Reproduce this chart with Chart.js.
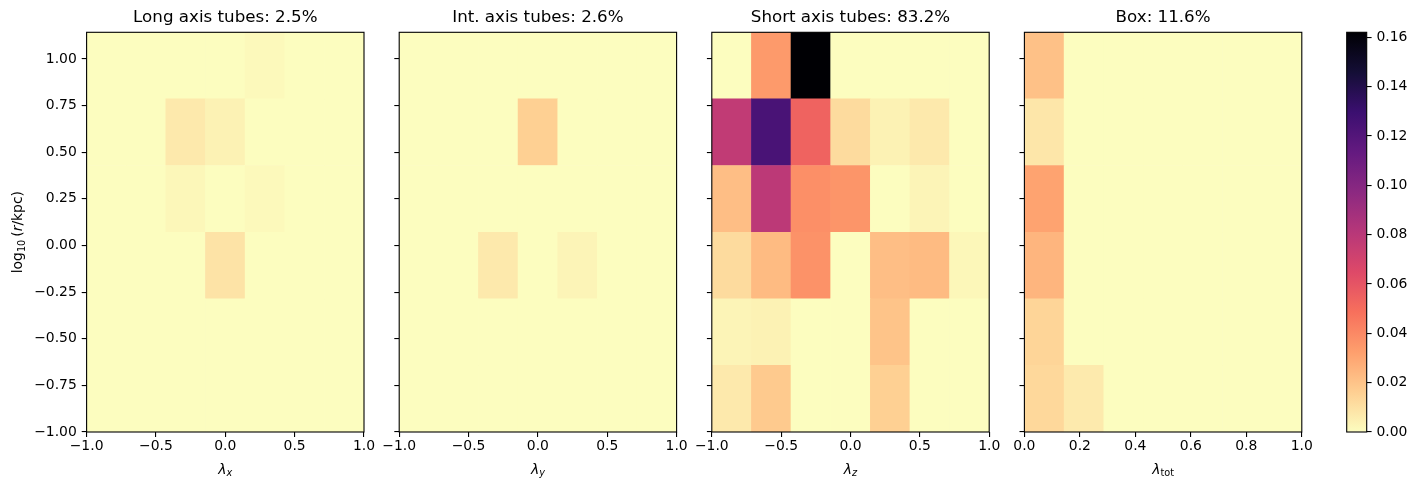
<!DOCTYPE html>
<html><head><meta charset="utf-8">
<script src="https://cdn.jsdelivr.net/npm/chart.js@4.4.1/dist/chart.umd.min.js"></script>
<style>
html,body{margin:0;padding:0;background:#fff;}
#wrap{position:relative;width:1417px;height:490px;overflow:hidden;}
#wrap canvas{position:absolute;left:0;top:0;}
</style></head><body>
<div id="wrap">
<canvas id="p0" width="1417" height="490"></canvas>
<canvas id="p1" width="1417" height="490"></canvas>
<canvas id="p2" width="1417" height="490"></canvas>
<canvas id="p3" width="1417" height="490"></canvas>
<canvas id="cb" width="1417" height="490"></canvas>
</div>
<script>
// ---------------- data ----------------
const yEdges = [-1, -0.643, -0.286, 0.071, 0.429, 0.786, 1.143];          // log10(r/kpc) bin edges
const lambdaEdges = [-1, -0.714, -0.429, -0.143, 0.143, 0.429, 0.714, 1]; // λx, λy, λz bin edges
const totEdges = [0, 0.143, 0.286, 0.429, 0.571, 0.714, 0.857, 1];        // λtot bin edges
const panelTitles = ['Long axis tubes: 2.5%', 'Int. axis tubes: 2.6%', 'Short axis tubes: 83.2%', 'Box: 11.6%'];
const yTicks = [-1, -0.75, -0.5, -0.25, 0, 0.25, 0.5, 0.75, 1];
const lambdaTicks = [-1, -0.5, 0, 0.5, 1];
const totTicks = [0, 0.2, 0.4, 0.6, 0.8, 1];
const cbarTicks = [0, 0.02, 0.04, 0.06, 0.08, 0.10, 0.12, 0.14, 0.16];
const vmax = 0.162;
// rows listed from the bottom bin (-1.000 … -0.643) to the top bin (0.786 … 1.143)
const longAxis = [
  [0, 0, 0, 0, 0, 0, 0],
  [0, 0, 0, 0, 0, 0, 0],
  [0, 0, 0, 0.009, 0, 0, 0],
  [0, 0, 0.002, 0, 0.0015, 0, 0],
  [0, 0, 0.007, 0.004, 0, 0, 0],
  [0, 0, 0, 0, 0.0015, 0, 0]
];
const intAxis = [
  [0, 0, 0, 0, 0, 0, 0],
  [0, 0, 0, 0, 0, 0, 0],
  [0, 0, 0.007, 0, 0.003, 0, 0],
  [0, 0, 0, 0, 0, 0, 0],
  [0, 0, 0, 0.016, 0, 0, 0],
  [0, 0, 0, 0, 0, 0, 0]
];
const shortAxis = [
  [0.007, 0.018, 0, 0, 0.016, 0, 0],
  [0.003, 0.004, 0, 0, 0.020, 0, 0],
  [0.012, 0.023, 0.037, 0, 0.022, 0.023, 0.002],
  [0.022, 0.079, 0.038, 0.036, 0, 0.003, 0],
  [0.077, 0.124, 0.054, 0.012, 0.004, 0.007, 0],
  [0, 0.034, 0.162, 0, 0, 0, 0]
];
const boxOrbits = [
  [0.013, 0.0066, 0, 0, 0, 0, 0],
  [0.014, 0, 0, 0, 0, 0, 0],
  [0.025, 0, 0, 0, 0, 0, 0],
  [0.031, 0, 0, 0, 0, 0, 0],
  [0.008, 0, 0, 0, 0, 0, 0],
  [0.021, 0, 0, 0, 0, 0, 0]
];

// ---------------- style ----------------
const FONT = "'DejaVu Sans', 'Liberation Sans', sans-serif";
const magma = [[0,0,4],[20,14,54],[59,15,112],[100,26,128],[140,41,129],[183,55,121],
               [222,73,104],[247,112,92],[254,159,109],[254,207,146],[252,253,191]];
function rgb(c){return 'rgb(' + c.map(Math.round).join(',') + ')';}
function cmapR(v){ // magma_r
  const t = 1 - Math.min(Math.max(v / vmax, 0), 1);
  const p = t * 10; const i = Math.min(Math.floor(p), 9); const f = p - i;
  const a = magma[i], b = magma[i + 1];
  return rgb([0,1,2].map(k => a[k] + (b[k] - a[k]) * f));
}
function fmt(v, d){ return Number(v).toFixed(d).replace('-', '\u2212'); }

Chart.defaults.font.family = FONT;
Chart.defaults.color = '#000';

const TICK = 4.9, FS = 13.9;
const plotLefts = [86.6, 399.2, 711.8, 1024.4];
const plotW = 277.4, plotTop = 32.3, plotBottom = 432;
const YW = 60, XH = 30;

function drawRich(ctx, pieces, cx, baseY, rotate) {
  const sub = FS * 0.7, shift = 2.9;
  const fontOf = p => (p[1].includes('it') ? 'italic ' : '') + (p[1].startsWith('sub') ? sub : FS) + 'px ' + FONT;
  let total = 0; const widths = [];
  pieces.forEach(p => {
    if (p[1] === 'gap') { widths.push(p[0]); total += p[0]; return; }
    ctx.font = fontOf(p); const w = ctx.measureText(p[0]).width; widths.push(w); total += w;
  });
  ctx.save();
  ctx.fillStyle = '#000'; ctx.textBaseline = 'alphabetic'; ctx.textAlign = 'left';
  if (rotate) { ctx.translate(baseY, cx); ctx.rotate(-Math.PI / 2); }
  else { ctx.translate(cx, baseY); }
  let x = -total / 2;
  pieces.forEach((p, i) => {
    if (p[1] !== 'gap') {
      ctx.font = fontOf(p);
      ctx.fillText(p[0], x, p[1].startsWith('sub') ? shift : 0);
    }
    x += widths[i];
  });
  ctx.restore();
}

const framePlugin = {
  id: 'frame',
  afterDraw(chart) {
    const {ctx, chartArea: a} = chart;
    ctx.save(); ctx.strokeStyle = '#000'; ctx.lineWidth = 1.1;
    ctx.strokeRect(a.left, a.top, a.right - a.left, a.bottom - a.top);
    ctx.restore();
    const lab = chart.options.plugins.axisLabels;
    if (lab) {
      if (lab.x) drawRich(ctx, lab.x, (a.left + a.right) / 2, 473.5, false);
      if (lab.y) drawRich(ctx, lab.y, (a.top + a.bottom) / 2, 21.8, true);
    }
  }
};

const panels = [
  {grid: longAxis, edges: lambdaEdges, ticks: lambdaTicks, xl: [['λ','it'],['x','subit']]},
  {grid: intAxis, edges: lambdaEdges, ticks: lambdaTicks, xl: [['λ','it'],['y','subit']]},
  {grid: shortAxis, edges: lambdaEdges, ticks: lambdaTicks, xl: [['λ','it'],['z','subit']]},
  {grid: boxOrbits, edges: totEdges, ticks: totTicks, xl: [['λ','it'],['tot','subrm']]}
];
const yLabel = [['log','rm'],['10','subrm'],[3,'gap'],['(','rm'],['r','it'],['/kpc)','rm']];

panels.forEach((P, k) => {
  const datasets = P.grid.map((row, r) => ({
    data: row.map((v, c) => ({x: (P.edges[c] + P.edges[c + 1]) / 2, y: [yEdges[r], yEdges[r + 1]]})),
    backgroundColor: row.map(v => cmapR(v)),
    borderWidth: 0, grouped: false, barPercentage: 1, categoryPercentage: 1
  }));
  const left = plotLefts[k];
  new Chart(document.getElementById('p' + k), {
    type: 'bar',
    data: {datasets},
    options: {
      responsive: false, animation: false, events: [],
      layout: {padding: {left: left - YW, right: 1417 - (left + plotW), top: 7.7, bottom: 490 - plotBottom - XH}},
      plugins: {
        legend: {display: false}, tooltip: {enabled: false},
        title: {display: true, text: panelTitles[k], fullSize: false, color: '#000',
                font: {size: 16.7, weight: 'normal', family: FONT}, padding: {top: 0, bottom: 4.56}},
        axisLabels: {x: P.xl, y: k === 0 ? yLabel : null}
      },
      scales: {
        x: {
          type: 'linear', min: P.edges[0], max: P.edges[P.edges.length - 1], offset: false,
          afterBuildTicks: s => { s.ticks = P.ticks.map(v => ({value: v})); },
          afterFit: s => { s.height = XH; },
          ticks: {callback: v => fmt(v, 1), font: {size: FS}, padding: 1.5, maxRotation: 0, autoSkip: false},
          grid: {drawOnChartArea: false, drawTicks: true, tickLength: TICK, color: '#000', lineWidth: 1.1, offset: false},
          border: {display: false}
        },
        y: {
          type: 'linear', min: yEdges[0], max: yEdges[yEdges.length - 1],
          afterBuildTicks: s => { s.ticks = yTicks.map(v => ({value: v})); },
          afterFit: s => { s.width = YW; },
          ticks: {display: k === 0, callback: v => fmt(v, 2), font: {size: FS}, padding: TICK},
          grid: {drawOnChartArea: false, drawTicks: true, tickLength: TICK, color: '#000', lineWidth: 1.1},
          border: {display: false}
        }
      }
    },
    plugins: [framePlugin]
  });
});

// colorbar
const CBW = 50, cbLeft = 1346.7, cbRight = 1366.7;
new Chart(document.getElementById('cb'), {
  type: 'bar',
  data: {labels: ['cbar'], datasets: [{
    data: [[0, vmax]], borderWidth: 0, barPercentage: 1, categoryPercentage: 1,
    backgroundColor: (c) => {
      const ch = c.chart; if (!ch.chartArea) return '#fff';
      const y0 = ch.scales.y.getPixelForValue(0), y1 = ch.scales.y.getPixelForValue(vmax);
      const g = ch.ctx.createLinearGradient(0, y0, 0, y1);
      magma.forEach((col, i) => g.addColorStop(1 - i / 10, rgb(col)));
      return g;
    }
  }]},
  options: {
    responsive: false, animation: false, events: [],
    layout: {padding: {left: cbLeft, right: 1417 - cbRight - CBW, top: plotTop, bottom: 490 - plotBottom}},
    plugins: {legend: {display: false}, tooltip: {enabled: false}},
    scales: {
      x: {display: false},
      y: {
        position: 'right', min: 0, max: vmax,
        afterBuildTicks: s => { s.ticks = cbarTicks.map(v => ({value: v})); },
        afterFit: s => { s.width = CBW; },
        ticks: {callback: v => fmt(v, 2), font: {size: FS}, padding: TICK},
        grid: {drawOnChartArea: false, drawTicks: true, tickLength: TICK, color: '#000', lineWidth: 1.1},
        border: {display: false}
      }
    }
  },
  plugins: [framePlugin]
});
</script>
</body></html>
